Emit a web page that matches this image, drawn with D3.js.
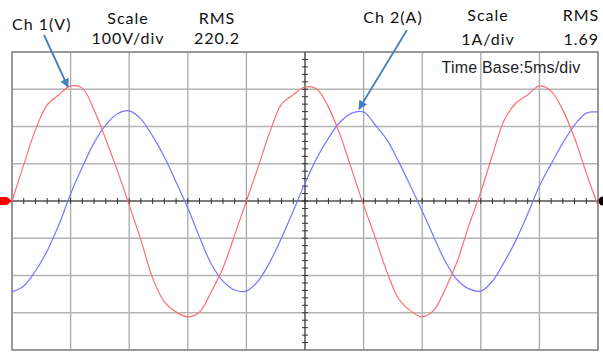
<!DOCTYPE html>
<html>
<head>
<meta charset="utf-8">
<script src="https://cdn.jsdelivr.net/npm/d3@7"></script>
<style>
  html, body { margin: 0; padding: 0; background: #fff; }
  svg { display: block; }
  .lbl { font-family: Lato, "Open Sans", sans-serif; fill: #111; letter-spacing: 1px; }
</style>
</head>
<body>
<svg id="chart"></svg>
<script>
// time in ms (5 ms/div, 10 divisions)
const timeMs = d3.range(0, 51);

// Ch 1 voltage (V)
const volts = [0, 97, 191, 258, 285, 309, 303, 244, 166, 81, -11,
  -105, -207, -271, -298, -311, -298, -244, -180, -91, 0,
  91, 185, 260, 285, 306, 301, 252, 177, 83, -11,
  -99, -191, -263, -295, -311, -293, -234, -161, -64, 24,
  124, 217, 263, 285, 309, 295, 244, 169, 75, -13];

// Ch 2 current (A)
const amps = [-2.44, -2.28, -1.88, -1.34, -0.64, 0.19, 0.91, 1.56, 2.04, 2.34, 2.42,
  2.20, 1.74, 1.18, 0.51, -0.19, -0.97, -1.69, -2.15, -2.39, -2.42,
  -2.15, -1.64, -0.99, -0.27, 0.48, 1.15, 1.69, 2.12, 2.36, 2.39,
  2.04, 1.64, 1.05, 0.40, -0.27, -0.97, -1.64, -2.12, -2.36, -2.42,
  -2.15, -1.64, -1.05, -0.35, 0.40, 0.99, 1.56, 2.04, 2.36, 2.39];

const ch1Labels = ["Ch 1(V)", "Scale", "100V/div", "RMS", "220.2"];
const ch2Labels = ["Ch 2(A)", "Scale", "1A/div", "RMS", "1.69"];
const timeBase = "Time Base:5ms/div";

const W = 603, H = 352;
const svg = d3.select('#chart').attr('width', W).attr('height', H);

const x = d3.scaleLinear().domain([0, 50]).range([12, 598]);
const yV = d3.scaleLinear().domain([-400, 400]).range([350, 52]);
const yA = d3.scaleLinear().domain([-4, 4]).range([350, 52]);

// grid
const grid = svg.append('g');
grid.selectAll('.vg')
  .data(d3.range(0, 51, 5))
  .enter().append('line')
  .attr('x1', d => x(d)).attr('x2', d => x(d))
  .attr('y1', yV(400)).attr('y2', yV(-400))
  .attr('stroke', '#a8a8a8').attr('stroke-width', 1.3);
grid.selectAll('.hg')
  .data(d3.range(-400, 401, 100))
  .enter().append('line')
  .attr('x1', x(0)).attr('x2', x(50))
  .attr('y1', d => yV(d)).attr('y2', d => yV(d))
  .attr('stroke', '#b4b4b4').attr('stroke-width', 1.3);

// border
svg.append('rect')
  .attr('x', x(0)).attr('y', yV(400))
  .attr('width', x(50) - x(0)).attr('height', yV(-400) - yV(400))
  .attr('fill', 'none').attr('stroke', '#8a8a8a').attr('stroke-width', 1.5);

// centre axes with minor ticks
const ax = svg.append('g').attr('stroke', '#333').attr('stroke-width', 1);
ax.append('line').attr('x1', x(0)).attr('x2', x(50)).attr('y1', yV(0)).attr('y2', yV(0));
ax.append('line').attr('x1', x(25)).attr('x2', x(25)).attr('y1', yV(400)).attr('y2', yV(-400));
ax.selectAll('.tx')
  .data(d3.range(1, 50))
  .enter().append('line')
  .attr('x1', d => x(d)).attr('x2', d => x(d))
  .attr('y1', yV(0) - 3).attr('y2', yV(0) + 3);
ax.selectAll('.ty')
  .data(d3.range(-380, 400, 20))
  .enter().append('line')
  .attr('x1', x(25) - 3).attr('x2', x(25) + 3)
  .attr('y1', d => yV(d)).attr('y2', d => yV(d));

// traces
const lineV = d3.line().x((d, i) => x(timeMs[i])).y(d => yV(d)).curve(d3.curveCatmullRom.alpha(0.5));
const lineA = d3.line().x((d, i) => x(timeMs[i])).y(d => yA(d)).curve(d3.curveCatmullRom.alpha(0.5));

svg.append('path').datum(amps)
  .attr('d', lineA).attr('fill', 'none')
  .attr('stroke', '#7676ff').attr('stroke-width', 1.2);
svg.append('path').datum(volts)
  .attr('d', lineV).attr('fill', 'none')
  .attr('stroke', '#ff6e6e').attr('stroke-width', 1.2);

// channel markers
svg.append('path')
  .attr('d', `M0,${yV(0) - 4}L7,${yV(0) - 4}L12,${yV(0)}L7,${yV(0) + 4}L0,${yV(0) + 4}Z`)
  .attr('fill', '#f00');
svg.append('circle').attr('cx', 603).attr('cy', yV(0)).attr('r', 4.5).attr('fill', '#000');

// arrows
const defs = svg.append('defs');
defs.append('marker')
  .attr('id', 'ah').attr('viewBox', '0 0 10 10')
  .attr('refX', 9).attr('refY', 5)
  .attr('markerWidth', 5).attr('markerHeight', 5)
  .attr('orient', 'auto')
  .append('path').attr('d', 'M0,0L10,5L0,10Z').attr('fill', '#4a7ebb');

svg.append('line')
  .attr('x1', 44).attr('y1', 35).attr('x2', 68).attr('y2', 87)
  .attr('stroke', '#4a7ebb').attr('stroke-width', 1.8).attr('marker-end', 'url(#ah)');
svg.append('line')
  .attr('x1', 407).attr('y1', 30).attr('x2', 359).attr('y2', 109)
  .attr('stroke', '#4a7ebb').attr('stroke-width', 1.8).attr('marker-end', 'url(#ah)');

// labels
const txt = (s, px, py, anchor) => svg.append('text')
  .attr('class', 'lbl').attr('x', px).attr('y', py)
  .attr('text-anchor', anchor).attr('font-size', 16).text(s);

txt(ch1Labels[0], 12, 30, 'start');
txt(ch1Labels[1], 128, 24, 'middle');
txt(ch1Labels[2], 128, 44, 'middle');
txt(ch1Labels[3], 217, 24, 'middle');
txt(ch1Labels[4], 217, 44, 'middle');

txt(ch2Labels[0], 393, 23, 'middle');
txt(ch2Labels[1], 488, 21, 'middle');
txt(ch2Labels[2], 488, 45, 'middle');
txt(ch2Labels[3], 581, 21, 'middle');
txt(ch2Labels[4], 599, 45, 'end');

svg.append('text')
  .attr('x', 511).attr('y', 73).attr('text-anchor', 'middle')
  .attr('font-family', '"Liberation Sans", Arial, sans-serif')
  .attr('font-size', 16).attr('letter-spacing', 0.2).attr('fill', '#1e1e2a')
  .text(timeBase);
</script>
</body>
</html>
